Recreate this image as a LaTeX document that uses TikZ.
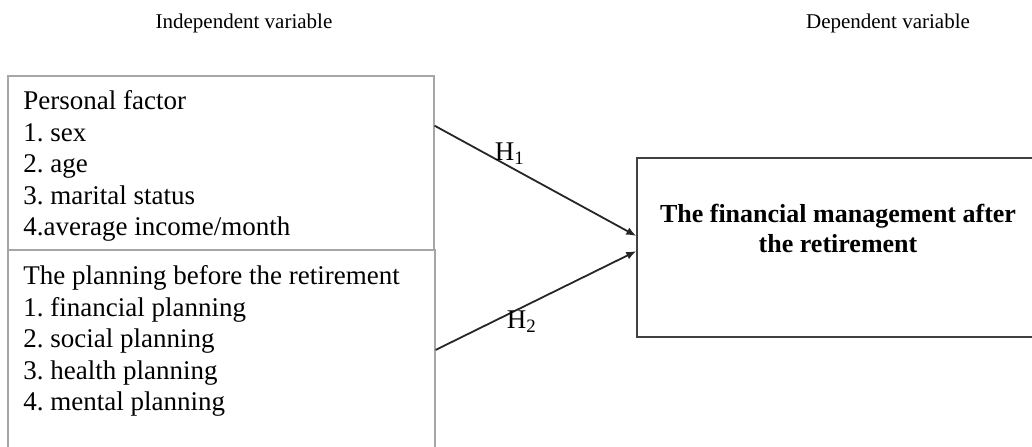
\documentclass[tikz,border=0pt]{standalone}
\usepackage{fontspec}
\setmainfont{Liberation Serif}
\frenchspacing
\usetikzlibrary{arrows.meta,calc,positioning}

\begin{document}
\begin{tikzpicture}[x=0.5pt,y=-0.5pt]
\tikzstyle{varbox}=[draw=gray!70,rectangle,line width=0.6pt,inner sep=0pt]
\tikzstyle{outbox}=[draw=black!75,rectangle,line width=0.7pt,inner sep=0pt]
\tikzstyle{listtext}=[anchor=north west,align=left,inner sep=0pt,font=\fontsize{13.5}{15.8}\selectfont]
\tikzstyle{heading}=[anchor=base,inner sep=0pt,font=\fontsize{10.5}{12}\selectfont]
\tikzstyle{hlabel}=[inner sep=0pt,font=\fontsize{13.5}{15.8}\selectfont]
\tikzstyle{hyp}=[draw=black!85,line width=0.9pt,-{Latex[length=5pt,width=4pt]}]
\useasboundingbox (0,0) rectangle (1032,446);
\clip (0,0) rectangle (1032,446);
\node[heading] (iv) at (244,28) {Independent variable};
\node[heading] (dvt) at (888,28) {Dependent variable};
\node[varbox,minimum width=213pt,minimum height=87pt] (pf) at (221,163) {};
\node[varbox,minimum width=213.5pt,minimum height=110pt] (pb) at (221.5,360) {};
\node[outbox,minimum width=206.5pt,minimum height=89.5pt] (dv) at (843.5,247.5) {};
\node[listtext] (pft) at (23,90) {Personal factor\\1. sex\\2. age\\3. marital status\\4.average income/month};
\node[listtext] (pbt) at (23,265) {The planning before the retirement\\1. financial planning\\2. social planning\\3. health planning\\4. mental planning};
\node[anchor=north,align=center,inner sep=0pt,font=\bfseries\fontsize{13}{15}\selectfont] (dvtext) at (838,204) {The financial management after\\the retirement};
\draw[hyp] ($(pf.north east)!0.287!(pf.south east)$) -- node[hlabel,pos=0.373,yshift=6.5pt] {H\textsubscript{1}} ($(dv.north west)!0.436!(dv.south west)$);
\draw[hyp] ($(pb.north east)!0.4545!(pb.south east)$) -- node[hlabel,pos=0.43,yshift=-7pt] {H\textsubscript{2}} ($(dv.north west)!0.52!(dv.south west)$);
\end{tikzpicture}
\end{document}
